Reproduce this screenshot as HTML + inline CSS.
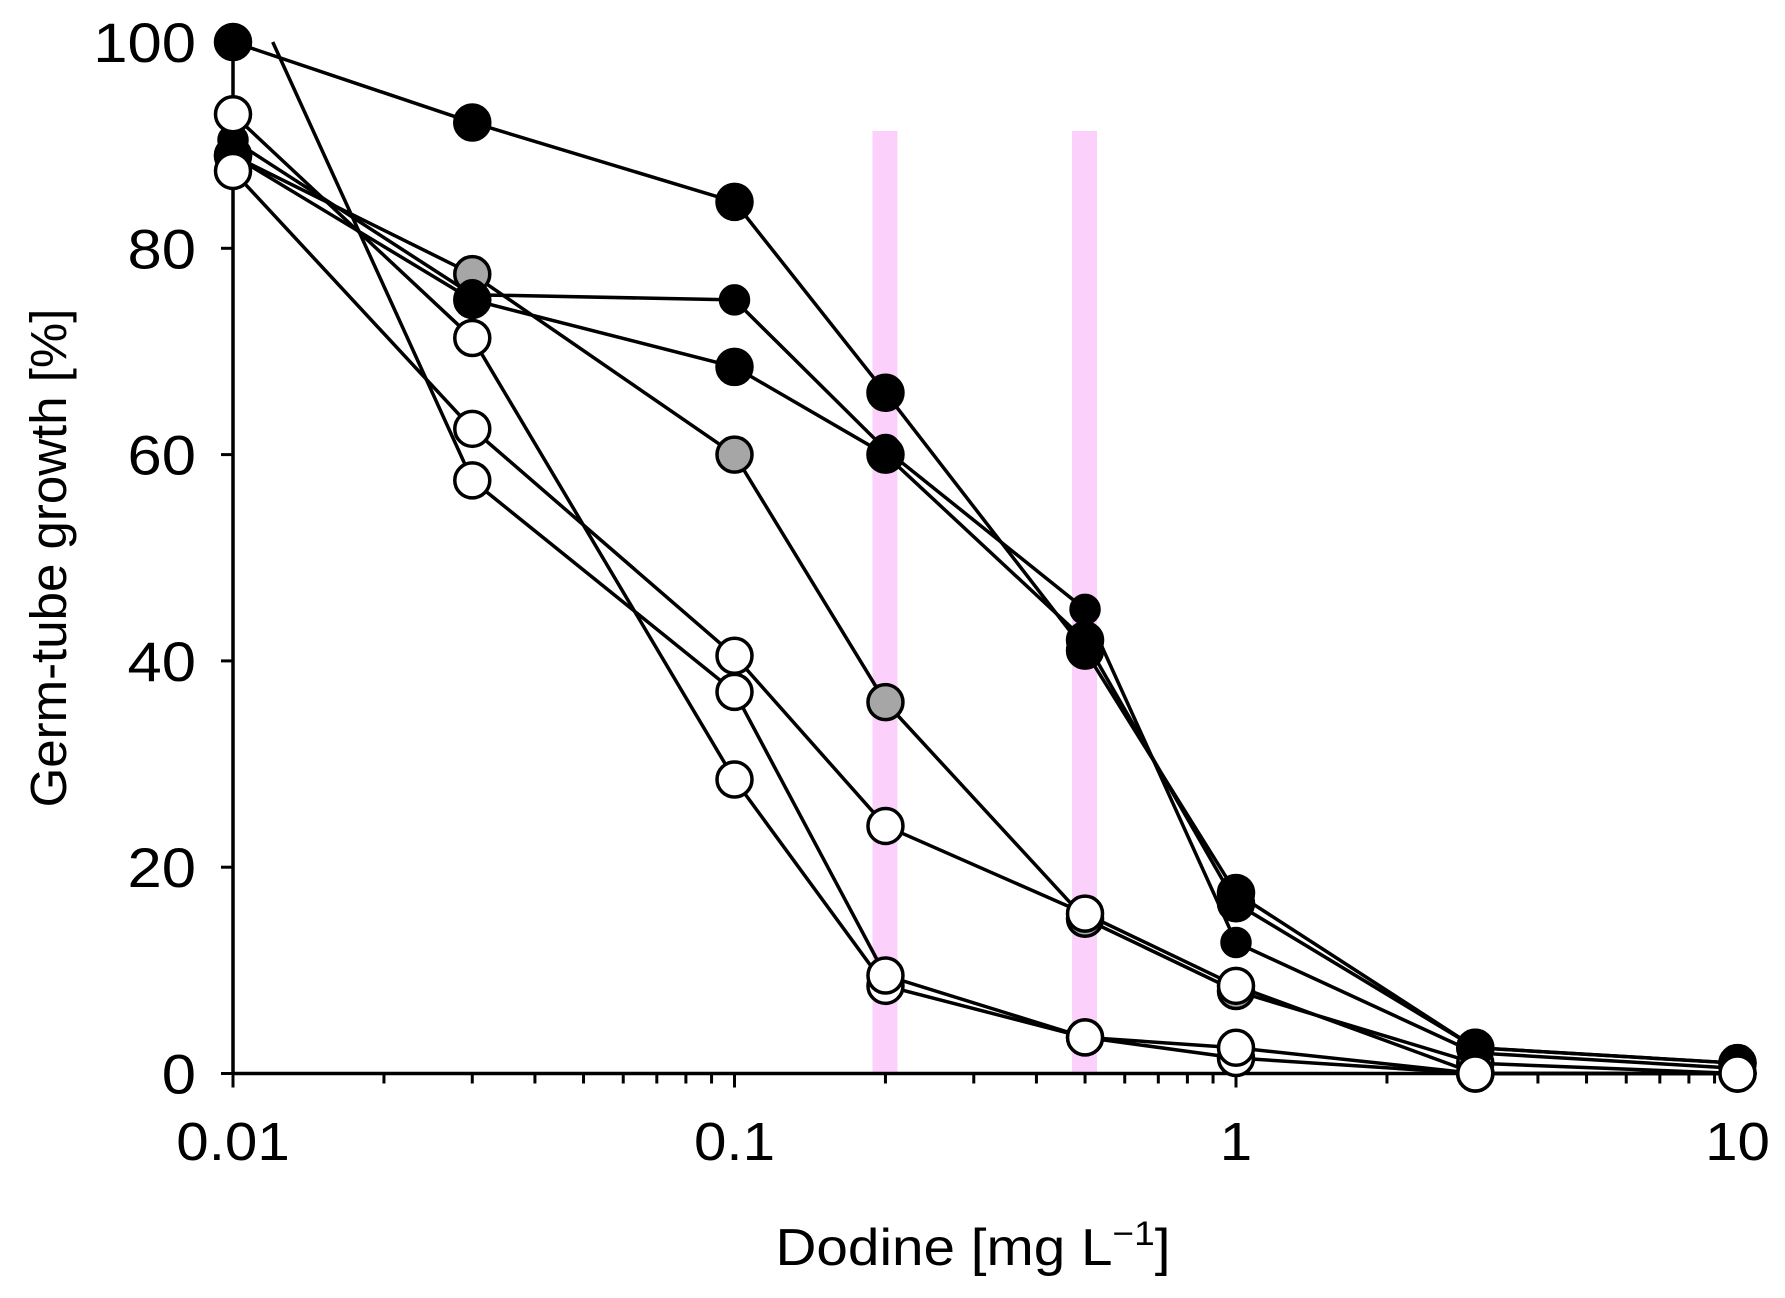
<!DOCTYPE html>
<html><head><meta charset="utf-8"><style>
html,body{margin:0;padding:0;background:#fff;}
svg{display:block;font-family:"Liberation Sans",Arial,sans-serif;}
</style></head><body>
<svg id="chart" width="1785" height="1298" viewBox="0 0 1785 1298" xmlns="http://www.w3.org/2000/svg">
<g id="bands"></g>
<g id="axes"></g>
<g id="series"></g>
<text x="0" y="0" transform="translate(66,558) rotate(-90)" text-anchor="middle" font-size="51">Germ-tube growth [%]</text>
<text x="0" y="0" transform="translate(973,1265) scale(1.09,1)" text-anchor="middle" font-size="52">Dodine [mg L<tspan font-size="34" dy="-20">−1</tspan><tspan dy="20">]</tspan></text>
</svg>
<script>
const xs = [0.01,0.03,0.1,0.2,0.5,1,3,10];
const xsG = [0.012,0.03,0.1,0.2,0.5,1,3,10];
const serA = [100,92.2,84.5,66,41,17.5,2.5,1];
const serB = [90.5,75.5,75,60.5,45,12.7,2,0.5];
const serC = [89,75,68.5,60,42,16.5,2.5,1];
const serD = [89,77.5,60,36,15,8,1,0];
const serE = [93,71.3,28.5,8.5,3.5,1.5,0,0];
const serF = [87.5,62.5,40.5,24,15.5,8.5,0,0];
const serG = [100,57.5,37,9.5,3.5,2.5,0,0];
const bandXs = [0.2,0.5];
const yTicks = [0,20,40,60,80,100];
const xTicks = [0.01,0.1,1,10];
const xTickLabels = ["0.01","0.1","1","10"];

const NS="http://www.w3.org/2000/svg";
const X0=233, DEC=501.5, Y0=1073.5, YU=10.315;
function sx(v){return X0+Math.log10(v/0.01)*DEC;}
function sy(v){return Y0-v*YU;}
function mk(tag,attrs,parent){const e=document.createElementNS(NS,tag);for(const k in attrs)e.setAttribute(k,attrs[k]);parent.appendChild(e);return e;}

const bands=document.getElementById('bands');
bandXs.forEach(b=>{
  const r=mk('rect',{x:sx(b)-13,y:131,width:25,height:Y0-131,fill:'#fbd0fb'},bands);
  
  
});

const axes=document.getElementById('axes');
const ya=mk('line',{x1:X0,y1:sy(100),x2:X0,y2:Y0,stroke:'#000','stroke-width':3.5},axes);


const xa=mk('line',{x1:X0,y1:Y0,x2:sx(10)+4,y2:Y0,stroke:'#000','stroke-width':3.5},axes);


yTicks.forEach(t=>{
  mk('line',{x1:X0-12,y1:sy(t),x2:X0,y2:sy(t),stroke:'#000','stroke-width':3},axes);
  const tx=mk('text',{x:0,y:0,transform:'translate('+(X0-37)+','+(sy(t)+20)+') scale(1.1,1)','text-anchor':'end','font-size':56},axes);
  tx.textContent=t;
  
  
});
for(let d=0;d<3;d++){for(let m=1;m<=10;m++){
  const v=0.01*Math.pow(10,d)*m; const major=(m===1||m===10);
  mk('line',{x1:sx(v),y1:Y0,x2:sx(v),y2:Y0+(major?14:10),stroke:'#000','stroke-width':3},axes);
}}
xTicks.forEach((t,i)=>{
  const tx=mk('text',{x:0,y:0,transform:'translate('+sx(t)+',1160) scale(1.08,1)','text-anchor':'middle','font-size':54},axes);
  tx.textContent=xTickLabels[i];
  
  
});

const sg=document.getElementById('series');
function drawSeries(name,xv,yv,fill,r,skipFirst){
  const g=mk('g',{},sg);
  
  
  const pts=xv.map((x,i)=>sx(x)+','+sy(yv[i])).join(' ');
  mk('polyline',{points:pts,fill:'none',stroke:'#000','stroke-width':3.5},g);
  xv.forEach((x,i)=>{
    if(skipFirst&&i===0)return;
    const c=mk('circle',{cx:sx(x),cy:sy(yv[i]),r:r,fill:fill,stroke:'#000','stroke-width':3.5},g);
    
    
  });
}
drawSeries('series-d',xs,serD,'#a6a6a6',17.5,false);
drawSeries('series-a',xs,serA,'#000',17.5,false);
drawSeries('series-b',xs,serB,'#000',14,false);
drawSeries('series-c',xs,serC,'#000',17.5,false);
drawSeries('series-e',xs,serE,'#fff',17.5,false);
drawSeries('series-f',xs,serF,'#fff',17.5,false);
drawSeries('series-g',xsG,serG,'#fff',17.5,true);
</script>
</body></html>
